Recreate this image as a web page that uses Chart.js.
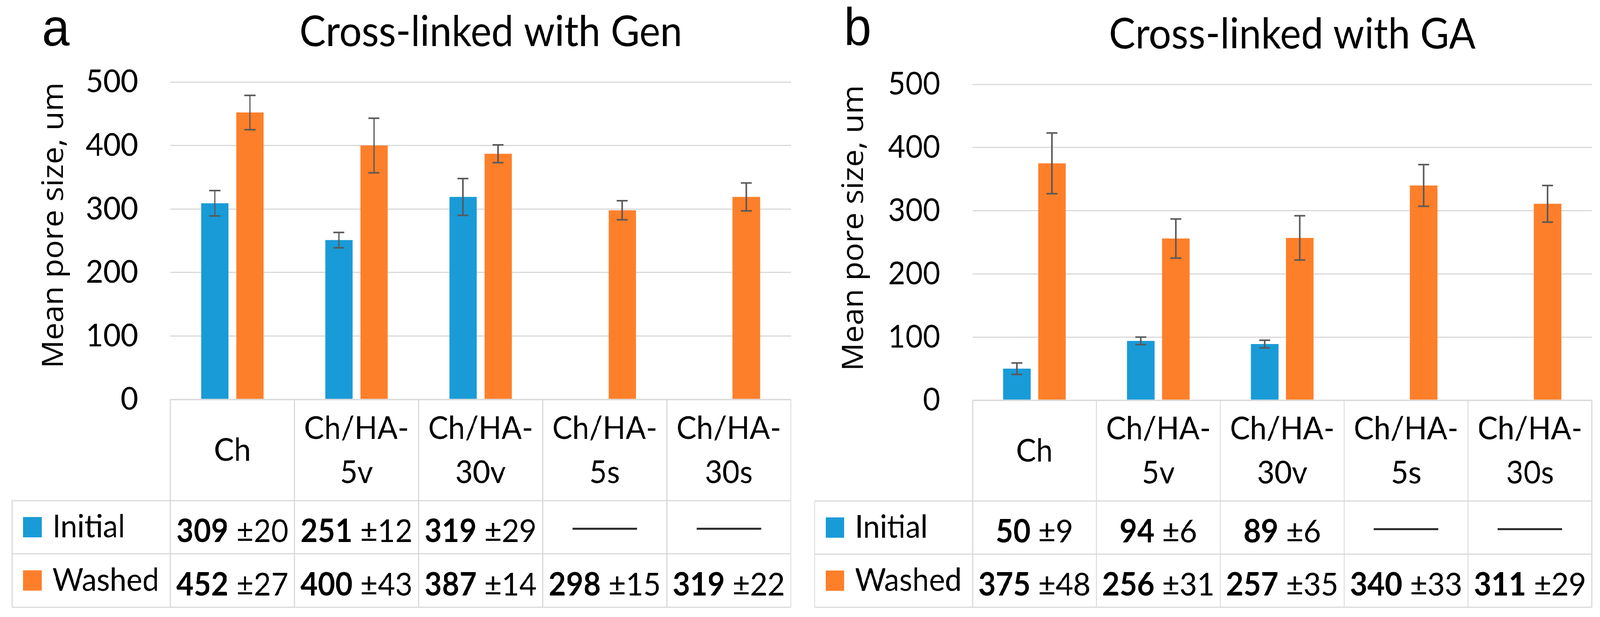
<!DOCTYPE html>
<html>
<head>
<meta charset="utf-8">
<script src="https://cdn.jsdelivr.net/npm/chart.js@4.4.1/dist/chart.umd.min.js"></script>
<style>
  html, body { margin: 0; padding: 0; background: #fff; overflow: hidden; }
  #wrap { position: absolute; left: 0; top: 0; width: 4368px; height: 1580px; transform-origin: 0 0; }
  canvas { position: absolute; top: 0; }
</style>
</head>
<body>
<div id="wrap">
  <canvas id="chartA" width="2184" height="1580" style="left:0;width:2184px;height:1580px"></canvas>
  <canvas id="chartB" width="2184" height="1580" style="left:2184px;width:2184px;height:1580px"></canvas>
</div>
<script>
// ---------------- DATA ----------------
const categories = [['Ch'], ['Ch/HA-', '5v'], ['Ch/HA-', '30v'], ['Ch/HA-', '5s'], ['Ch/HA-', '30s']];
const seriesNames = ['Initial', 'Washed'];
const yTicks = [0, 100, 200, 300, 400, 500];

const titleA = 'Cross-linked with Gen';
const genInitial    = [309, 251, 319, null, null];
const genInitialErr = [20, 12, 29, null, null];
const genWashed     = [452, 400, 387, 298, 319];
const genWashedErr  = [27, 43, 14, 15, 22];

const titleB = 'Cross-linked with GA';
const gaInitial    = [50, 94, 89, null, null];
const gaInitialErr = [9, 6, 6, null, null];
const gaWashed     = [375, 256, 257, 340, 311];
const gaWashedErr  = [48, 31, 35, 33, 29];

const yTitle = 'Mean pore size, um';

// ---------------- STYLE / LAYOUT ----------------
const colors = ['#199bd8', '#fe7f2a'];
const gridColor = '#d9d9d9';
const FONT = 'Lato, "Open Sans", sans-serif';
const REF_W = 4368, REF_H = 1580, W = 2184, H = 1580;

// fit the fixed-size drawing to the actual window
(function fit() {
  const vw = window.innerWidth || REF_W, vh = window.innerHeight || REF_H;
  document.getElementById('wrap').style.transform = 'scale(' + (vw / REF_W) + ',' + (vh / REF_H) + ')';
})();

const layoutA = { letter: 'a', plotLeft: 465, plotRight: 2159, plotTop: 210, plotBottom: 1023,
  tableLeft: 33, row1: 1282, row2: 1418, row3: 1555,
  titleX: 1340, titleY: 118, letterX: 115, letterY: 117, yTitleX: 172, yTitleY: 577 };
const layoutB = { letter: 'b', plotLeft: 471, plotRight: 2162, plotTop: 216, plotBottom: 1025,
  tableLeft: 40, row1: 1283, row2: 1419, row3: 1555,
  titleX: 1344, titleY: 124, letterX: 120, letterY: 115, yTitleX: 172, yTitleY: 584 };

const excelPlugin = {
  id: 'excelTable',
  afterDatasetsDraw(chart, args, opts) {
    const ctx = chart.ctx;
    const ys = chart.scales.y;
    ctx.save();
    ctx.strokeStyle = '#595959';
    ctx.lineWidth = 4;
    chart.data.datasets.forEach((ds, di) => {
      const meta = chart.getDatasetMeta(di);
      ds.data.forEach((v, i) => {
        const e = opts.errors[di][i];
        if (v == null || e == null) return;
        const x = meta.data[i].x;
        const yt = ys.getPixelForValue(v + e);
        const yb = ys.getPixelForValue(v - e);
        ctx.beginPath();
        ctx.moveTo(x, yt); ctx.lineTo(x, yb);
        ctx.moveTo(x - 15, yt); ctx.lineTo(x + 15, yt);
        ctx.moveTo(x - 15, yb); ctx.lineTo(x + 15, yb);
        ctx.stroke();
      });
    });
    ctx.restore();
  },
  afterDraw(chart, args, opts) {
    const ctx = chart.ctx;
    const L = opts.layout;
    const xs = chart.scales.x;
    const area = chart.chartArea;
    const n = opts.categories.length;
    const step = xs.getPixelForValue(1) - xs.getPixelForValue(0);
    const bounds = [];
    for (let k = 0; k <= n; k++) bounds.push(xs.getPixelForValue(0) - step / 2 + k * step);
    const right = bounds[n];

    ctx.save();
    // table grid
    ctx.strokeStyle = gridColor;
    ctx.lineWidth = 3;
    ctx.beginPath();
    ctx.moveTo(bounds[0], area.bottom); ctx.lineTo(right, area.bottom);
    [L.row1, L.row2, L.row3].forEach(y => { ctx.moveTo(L.tableLeft, y); ctx.lineTo(right, y); });
    bounds.forEach(b => { ctx.moveTo(b, area.bottom); ctx.lineTo(b, L.row3); });
    ctx.moveTo(L.tableLeft, L.row1); ctx.lineTo(L.tableLeft, L.row3);
    ctx.stroke();

    ctx.fillStyle = '#000';
    ctx.textBaseline = 'alphabetic';
    // header: category labels
    ctx.font = '82px ' + FONT;
    ctx.textAlign = 'center';
    const capH = 59;
    const midY = (area.bottom + L.row1) / 2 - 2;
    opts.categories.forEach((lines, i) => {
      const cx = xs.getPixelForValue(i);
      lines.forEach((t, k) => {
        ctx.fillText(t, cx, midY + capH / 2 + (k - (lines.length - 1) / 2) * 113);
      });
    });

    // data rows with legend keys
    const rowCenters = [(L.row1 + L.row2) / 2, (L.row2 + L.row3) / 2];
    chart.data.datasets.forEach((ds, di) => {
      const rc = rowCenters[di];
      ctx.fillStyle = colors[di];
      ctx.fillRect(L.tableLeft + 30, rc - 26, 51, 52);
      ctx.fillStyle = '#000';
      ctx.font = '82px ' + FONT;
      ctx.textAlign = 'left';
      ctx.fillText(opts.seriesNames[di], L.tableLeft + 110, rc + 26);
      ds.data.forEach((v, i) => {
        const cx = xs.getPixelForValue(i);
        const e = opts.errors[di][i];
        if (v == null) {
          ctx.strokeStyle = '#262626';
          ctx.lineWidth = 5;
          ctx.beginPath();
          ctx.moveTo(cx - 88, rc + 4); ctx.lineTo(cx + 88, rc + 4);
          ctx.stroke();
          return;
        }
        const s1 = String(v), s2 = ' \u00b1' + e;
        ctx.font = 'bold 82px ' + FONT;
        const w1 = ctx.measureText(s1).width;
        ctx.font = '82px ' + FONT;
        const w2 = ctx.measureText(s2).width;
        const x0 = cx - (w1 + w2) / 2;
        ctx.textAlign = 'left';
        ctx.font = 'bold 82px ' + FONT;
        ctx.fillText(s1, x0, rc + 38);
        ctx.font = '82px ' + FONT;
        ctx.fillText(s2, x0 + w1, rc + 38);
      });
    });

    // chart title
    ctx.textAlign = 'center';
    ctx.font = '108px ' + FONT;
    ctx.fillText(opts.title, L.titleX, L.titleY);
    // panel letter
    ctx.textAlign = 'left';
    ctx.font = '135px "Liberation Sans", Arial, sans-serif';
    ctx.fillText(L.letter, L.letterX, L.letterY);
    // y-axis title
    ctx.save();
    ctx.translate(L.yTitleX, L.yTitleY);
    ctx.rotate(-Math.PI / 2);
    ctx.textAlign = 'center';
    ctx.font = '80px "Open Sans", sans-serif';
    ctx.fillText(opts.yTitle, 0, 0);
    ctx.restore();

    ctx.restore();
  }
};

function makeChart(id, L, title, initial, initialErr, washed, washedErr) {
  return new Chart(document.getElementById(id), {
    type: 'bar',
    data: {
      labels: categories.map(c => c.join('')),
      datasets: [
        { label: seriesNames[0], data: initial, backgroundColor: colors[0], borderWidth: 0 },
        { label: seriesNames[1], data: washed, backgroundColor: colors[1], borderWidth: 0 }
      ]
    },
    options: {
      responsive: false,
      devicePixelRatio: 1,
      animation: false,
      events: [],
      datasets: { bar: { categoryPercentage: 0.566, barPercentage: 0.78 } },
      layout: { padding: { left: 0, top: L.plotTop, right: W - L.plotRight, bottom: 0 } },
      scales: {
        x: {
          type: 'category',
          ticks: { display: false },
          grid: { display: false },
          border: { display: false },
          afterFit: s => { s.height = H - L.plotBottom; }
        },
        y: {
          min: yTicks[0], max: yTicks[yTicks.length - 1],
          afterBuildTicks: s => { s.ticks = yTicks.map(v => ({ value: v })); },
          ticks: { color: '#000', padding: 88, font: { family: FONT, size: 82 } },
          grid: { color: gridColor, lineWidth: 3, drawTicks: false },
          border: { display: false },
          afterFit: s => { s.width = L.plotLeft; }
        }
      },
      plugins: {
        legend: { display: false },
        tooltip: { enabled: false },
        title: { display: false },
        excelTable: {
          layout: L, title: title, yTitle: yTitle, categories: categories, seriesNames: seriesNames,
          errors: [initialErr, washedErr]
        }
      }
    },
    plugins: [excelPlugin]
  });
}

makeChart('chartA', layoutA, titleA, genInitial, genInitialErr, genWashed, genWashedErr);
makeChart('chartB', layoutB, titleB, gaInitial, gaInitialErr, gaWashed, gaWashedErr);
</script>
</body>
</html>
